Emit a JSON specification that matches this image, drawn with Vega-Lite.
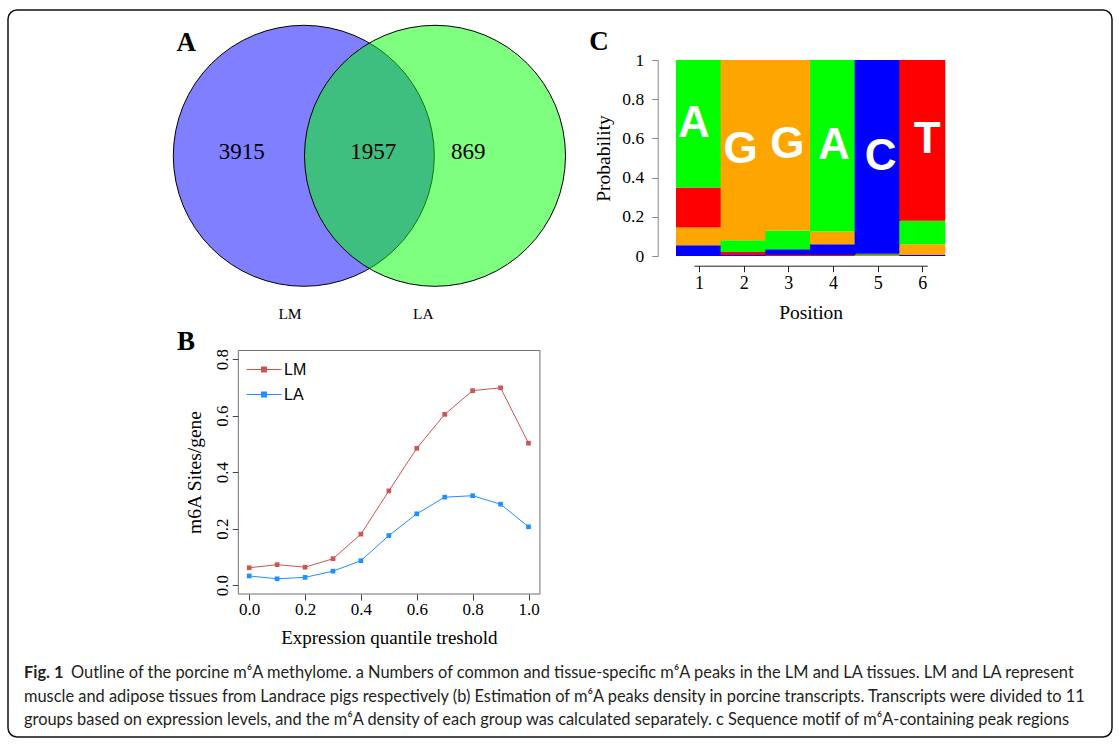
{
  "$schema": "https://vega.github.io/schema/vega-lite/v6.json",
  "width": 1104,
  "height": 727,
  "autosize": {"type": "none"},
  "padding": {"left": 8, "top": 10, "right": 7, "bottom": 8},
  "background": "white",
  "config": {
    "view": {"stroke": "#111111", "strokeWidth": 1.5, "cornerRadius": 9},
    "axis": {"labelFont": "Liberation Serif", "titleFont": "Liberation Serif", "labelColor": "black", "titleColor": "black", "titleFontWeight": "normal", "grid": false, "labelFlush": false, "labelOverlap": false},
    "legend": {"labelColor": "black"}
  },
  "datasets": {
    "venn": [{"set": "LM", "cx": 0, "cy": 0}, {"set": "LA", "cx": 1, "cy": 0}],
    "counts": [{"n": "3915", "x": -0.473, "y": -0.03}, {"n": "1957", "x": 0.53, "y": -0.03}, {"n": "869", "x": 1.254, "y": -0.03}],
    "setlabels": [{"n": "LM", "x": -0.105, "y": 1.21}, {"n": "LA", "x": 0.911, "y": 1.21}],
    "density": [
      {"q": 0.0, "series": "LM", "v": 0.061}, {"q": 0.1, "series": "LM", "v": 0.072}, {"q": 0.2, "series": "LM", "v": 0.063},
      {"q": 0.3, "series": "LM", "v": 0.093}, {"q": 0.4, "series": "LM", "v": 0.180}, {"q": 0.5, "series": "LM", "v": 0.333},
      {"q": 0.6, "series": "LM", "v": 0.484}, {"q": 0.7, "series": "LM", "v": 0.604}, {"q": 0.8, "series": "LM", "v": 0.688},
      {"q": 0.9, "series": "LM", "v": 0.698}, {"q": 1.0, "series": "LM", "v": 0.502},
      {"q": 0.0, "series": "LA", "v": 0.032}, {"q": 0.1, "series": "LA", "v": 0.022}, {"q": 0.2, "series": "LA", "v": 0.027},
      {"q": 0.3, "series": "LA", "v": 0.049}, {"q": 0.4, "series": "LA", "v": 0.086}, {"q": 0.5, "series": "LA", "v": 0.175},
      {"q": 0.6, "series": "LA", "v": 0.252}, {"q": 0.7, "series": "LA", "v": 0.311}, {"q": 0.8, "series": "LA", "v": 0.316},
      {"q": 0.9, "series": "LA", "v": 0.286}, {"q": 1.0, "series": "LA", "v": 0.206}
    ],
    "motif": [
      {"pos": 1, "base": "C", "prob": 0.055}, {"pos": 1, "base": "G", "prob": 0.09}, {"pos": 1, "base": "T", "prob": 0.205}, {"pos": 1, "base": "A", "prob": 0.65},
      {"pos": 2, "base": "C", "prob": 0.005}, {"pos": 2, "base": "T", "prob": 0.015}, {"pos": 2, "base": "A", "prob": 0.06}, {"pos": 2, "base": "G", "prob": 0.92},
      {"pos": 3, "base": "T", "prob": 0.005}, {"pos": 3, "base": "C", "prob": 0.03}, {"pos": 3, "base": "A", "prob": 0.095}, {"pos": 3, "base": "G", "prob": 0.87},
      {"pos": 4, "base": "T", "prob": 0.005}, {"pos": 4, "base": "C", "prob": 0.055}, {"pos": 4, "base": "G", "prob": 0.065}, {"pos": 4, "base": "A", "prob": 0.875},
      {"pos": 5, "base": "A", "prob": 0.006}, {"pos": 5, "base": "T", "prob": 0.006}, {"pos": 5, "base": "C", "prob": 0.988},
      {"pos": 6, "base": "C", "prob": 0.005}, {"pos": 6, "base": "G", "prob": 0.055}, {"pos": 6, "base": "A", "prob": 0.12}, {"pos": 6, "base": "T", "prob": 0.82}
    ],
    "caption": [
      {"line": 1, "part": "b", "t": "Fig. 1"},
      {"line": 1, "part": "r", "t": "Outline of the porcine m⁶A methylome. a Numbers of common and tissue-specific m⁶A peaks in the LM and LA tissues. LM and LA represent"},
      {"line": 2, "part": "n", "t": "muscle and adipose tissues from Landrace pigs respectively (b) Estimation of m⁶A peaks density in porcine transcripts. Transcripts were divided to 11"},
      {"line": 3, "part": "n", "t": "groups based on expression levels, and the m⁶A density of each group was calculated separately. c Sequence motif of m⁶A-containing peak regions"}
    ],
    "one": [{}]
  },
  "layer": [
    {
      "data": {"name": "venn"},
      "mark": {"type": "point", "shape": "circle", "filled": true, "size": 68121, "opacity": 1, "fillOpacity": 0.5, "stroke": "black", "strokeWidth": 1, "strokeOpacity": 1},
      "encoding": {
        "x": {"field": "cx", "type": "quantitative", "scale": {"domain": [0, 1], "range": [295.8, 427], "nice": false, "zero": false}, "axis": null},
        "y": {"field": "cy", "type": "quantitative", "scale": {"domain": [0, 1], "range": [145.8, 276.6], "nice": false, "zero": false}, "axis": null},
        "fill": {"field": "set", "type": "nominal", "scale": {"domain": ["LM", "LA"], "range": ["#0000FF", "#00FF00"]}, "legend": null}
      }
    },
    {
      "data": {"name": "counts"},
      "mark": {"type": "text", "font": "Liberation Serif", "fontSize": 23, "baseline": "middle", "align": "center", "color": "black"},
      "encoding": {
        "x": {"field": "x", "type": "quantitative", "scale": {"domain": [0, 1], "range": [295.8, 427], "nice": false, "zero": false}, "axis": null},
        "y": {"field": "y", "type": "quantitative", "scale": {"domain": [0, 1], "range": [145.8, 276.6], "nice": false, "zero": false}, "axis": null},
        "text": {"field": "n"}
      }
    },
    {
      "data": {"name": "setlabels"},
      "mark": {"type": "text", "font": "Liberation Serif", "fontSize": 15.5, "baseline": "middle", "align": "center", "color": "black"},
      "encoding": {
        "x": {"field": "x", "type": "quantitative", "scale": {"domain": [0, 1], "range": [295.8, 427], "nice": false, "zero": false}, "axis": null},
        "y": {"field": "y", "type": "quantitative", "scale": {"domain": [0, 1], "range": [145.8, 276.6], "nice": false, "zero": false}, "axis": null},
        "text": {"field": "n"}
      }
    },
    {
      "data": {"name": "one"},
      "mark": {"type": "text", "text": "A", "font": "Liberation Serif", "fontWeight": "bold", "fontSize": 27, "baseline": "middle", "align": "center", "color": "black"},
      "encoding": {
        "x": {"datum": -0.896, "type": "quantitative", "scale": {"domain": [0, 1], "range": [295.8, 427], "nice": false, "zero": false}, "axis": null},
        "y": {"datum": -0.866, "type": "quantitative", "scale": {"domain": [0, 1], "range": [145.8, 276.6], "nice": false, "zero": false}, "axis": null}
      }
    },
    {
      "data": {"name": "one"},
      "mark": {"type": "rect", "fill": null, "stroke": "#707070", "strokeWidth": 1},
      "encoding": {
        "x": {"datum": -0.039, "type": "quantitative", "scale": {"domain": [0, 1], "range": [241.2, 520.5], "nice": false, "zero": false}, "axis": null},
        "x2": {"datum": 1.041},
        "y": {"datum": -0.032, "type": "quantitative", "scale": {"domain": [0, 0.8], "range": [575, 349], "nice": false, "zero": false}, "axis": null},
        "y2": {"datum": 0.83}
      }
    },
    {
      "data": {"name": "density"},
      "mark": {"type": "line", "strokeWidth": 1},
      "encoding": {
        "x": {"field": "q", "type": "quantitative", "scale": {"domain": [0, 1], "range": [241.2, 520.5], "nice": false, "zero": false},
          "axis": {"orient": "bottom", "offset": -143, "values": [0, 0.2, 0.4, 0.6, 0.8, 1], "format": ".1f", "domain": false, "tickColor": "#444444", "tickSize": 6, "labelFontSize": 17, "labelPadding": 1, "title": "Expression quantile treshold", "titleFontSize": 19, "titlePadding": 11}},
        "y": {"field": "v", "type": "quantitative", "scale": {"domain": [0, 0.8], "range": [575, 349], "nice": false, "zero": false},
          "axis": {"orient": "left", "offset": -230.3, "values": [0, 0.2, 0.4, 0.6, 0.8], "format": ".1f", "domain": false, "tickColor": "#444444", "tickSize": 6, "labelAngle": -90, "labelAlign": "center", "labelBaseline": "bottom", "labelFontSize": 17, "labelPadding": 1, "title": "m6A Sites/gene", "titleFontSize": 19.5, "titlePadding": 9}},
        "stroke": {"field": "series", "type": "nominal", "scale": {"domain": ["LM", "LA"], "range": ["#CD5555", "#1E90FF"]}, "legend": null}
      }
    },
    {
      "data": {"name": "density"},
      "mark": {"type": "point", "shape": "square", "filled": true, "size": 22, "opacity": 1},
      "encoding": {
        "x": {"field": "q", "type": "quantitative", "scale": {"domain": [0, 1], "range": [241.2, 520.5], "nice": false, "zero": false}, "axis": null},
        "y": {"field": "v", "type": "quantitative", "scale": {"domain": [0, 0.8], "range": [575, 349], "nice": false, "zero": false}, "axis": null},
        "fill": {"field": "series", "type": "nominal", "scale": {"domain": ["LM", "LA"], "range": ["#CD5555", "#1E90FF"]},
          "legend": {"orient": "none", "legendX": 248, "legendY": 351.5, "title": null, "padding": 0,
            "symbolType": "M-2.33,-0.067H2.33V0.067H-2.33Z M-0.4,-0.4H0.4V0.4H-0.4Z", "symbolSize": 225, "symbolStrokeWidth": 0,
            "labelFont": "Liberation Sans", "labelFontSize": 16, "labelOffset": 12, "rowPadding": 9}}
      }
    },
    {
      "data": {"name": "one"},
      "mark": {"type": "text", "text": "B", "font": "Liberation Serif", "fontWeight": "bold", "fontSize": 27, "baseline": "middle", "align": "center", "color": "black"},
      "encoding": {
        "x": {"datum": -0.226, "type": "quantitative", "scale": {"domain": [0, 1], "range": [241.2, 520.5], "nice": false, "zero": false}, "axis": null},
        "y": {"datum": 0.86, "type": "quantitative", "scale": {"domain": [0, 0.8], "range": [575, 349], "nice": false, "zero": false}, "axis": null}
      }
    },
    {
      "data": {"name": "motif"},
      "mark": {"type": "bar", "width": 46},
      "encoding": {
        "x": {"field": "pos", "type": "quantitative", "scale": {"domain": [1, 6], "range": [686, 919.3], "nice": false, "zero": false},
          "axis": {"orient": "bottom", "offset": -471.3, "values": [1, 2, 3, 4, 5, 6], "format": "d", "domain": true, "domainColor": "#222222", "tickColor": "#222222", "tickSize": 6, "labelFontSize": 18, "labelPadding": 3, "title": "Position", "titleFontSize": 19.5, "titlePadding": 11}},
        "y": {"field": "prob", "type": "quantitative", "stack": "zero", "scale": {"domain": [0, 1], "range": [246, 50], "nice": false, "zero": false},
          "axis": {"orient": "left", "offset": -649.7, "values": [0, 0.2, 0.4, 0.6, 0.8, 1], "format": "~g", "domain": true, "domainColor": "#888888", "tickColor": "#888888", "tickSize": 6, "labelFontSize": 17.5, "labelPadding": 8, "title": "Probability", "titleFontSize": 19.5, "titlePadding": 8}},
        "color": {"field": "base", "type": "nominal", "scale": {"domain": ["A", "C", "G", "T"], "range": ["#00FF00", "#0000FF", "#FFA500", "#FF0000"]}, "legend": null},
        "order": {"field": "prob", "sort": "ascending"}
      }
    },
    {
      "data": {"name": "motif"},
      "transform": [
        {"stack": "prob", "groupby": ["pos"], "sort": [{"field": "prob", "order": "ascending"}], "as": ["y0", "y1"]},
        {"filter": "datum.prob > 0.5"},
        {"fold": ["y0", "y1"], "as": ["edge", "yv"]},
        {"aggregate": [{"op": "mean", "field": "yv", "as": "mid"}], "groupby": ["pos", "base"]}
      ],
      "mark": {"type": "text", "font": "Liberation Sans", "fontWeight": "bold", "fontSize": 44, "baseline": "middle", "align": "center", "color": "white"},
      "encoding": {
        "x": {"field": "pos", "type": "quantitative", "scale": {"domain": [1, 6], "range": [686, 919.3], "nice": false, "zero": false}, "axis": null},
        "y": {"field": "mid", "type": "quantitative", "scale": {"domain": [0, 1], "range": [246, 50], "nice": false, "zero": false}, "axis": null},
        "text": {"field": "base"}
      }
    },
    {
      "data": {"name": "one"},
      "mark": {"type": "text", "text": "C", "font": "Liberation Serif", "fontWeight": "bold", "fontSize": 27, "baseline": "middle", "align": "center", "color": "black"},
      "encoding": {
        "x": {"datum": -1.036, "type": "quantitative", "scale": {"domain": [1, 6], "range": [686, 919.3], "nice": false, "zero": false}, "axis": null},
        "y": {"datum": 1.092, "type": "quantitative", "scale": {"domain": [0, 1], "range": [246, 50], "nice": false, "zero": false}, "axis": null}
      }
    },
    {
      "data": {"name": "caption"},
      "transform": [{"filter": "datum.part === 'b'"}],
      "mark": {"type": "text", "font": "Lato", "fontWeight": "bold", "fontSize": 16.4, "align": "left", "baseline": "middle", "color": "#231F20"},
      "encoding": {
        "x": {"datum": 0, "type": "quantitative", "scale": {"domain": [0, 1], "range": [16, 1075], "nice": false, "zero": false}, "axis": null},
        "y": {"field": "line", "type": "quantitative", "scale": {"domain": [1, 3], "range": [663.3, 710], "nice": false, "zero": false}, "axis": null},
        "text": {"field": "t"}
      }
    },
    {
      "data": {"name": "caption"},
      "transform": [{"filter": "datum.part === 'r'"}],
      "mark": {"type": "text", "font": "Lato", "fontSize": 16.4, "align": "left", "baseline": "middle", "color": "#231F20", "dx": 47},
      "encoding": {
        "x": {"datum": 0, "type": "quantitative", "scale": {"domain": [0, 1], "range": [16, 1075], "nice": false, "zero": false}, "axis": null},
        "y": {"field": "line", "type": "quantitative", "scale": {"domain": [1, 3], "range": [663.3, 710], "nice": false, "zero": false}, "axis": null},
        "text": {"field": "t"}
      }
    },
    {
      "data": {"name": "caption"},
      "transform": [{"filter": "datum.part === 'n'"}],
      "mark": {"type": "text", "font": "Lato", "fontSize": 16.4, "align": "left", "baseline": "middle", "color": "#231F20"},
      "encoding": {
        "x": {"datum": 0, "type": "quantitative", "scale": {"domain": [0, 1], "range": [16, 1075], "nice": false, "zero": false}, "axis": null},
        "y": {"field": "line", "type": "quantitative", "scale": {"domain": [1, 3], "range": [663.3, 710], "nice": false, "zero": false}, "axis": null},
        "text": {"field": "t"}
      }
    }
  ],
  "resolve": {
    "scale": {"x": "independent", "y": "independent", "fill": "independent", "stroke": "independent", "color": "independent"},
    "axis": {"x": "independent", "y": "independent"},
    "legend": {"fill": "independent", "stroke": "independent", "color": "independent"}
  }
}
